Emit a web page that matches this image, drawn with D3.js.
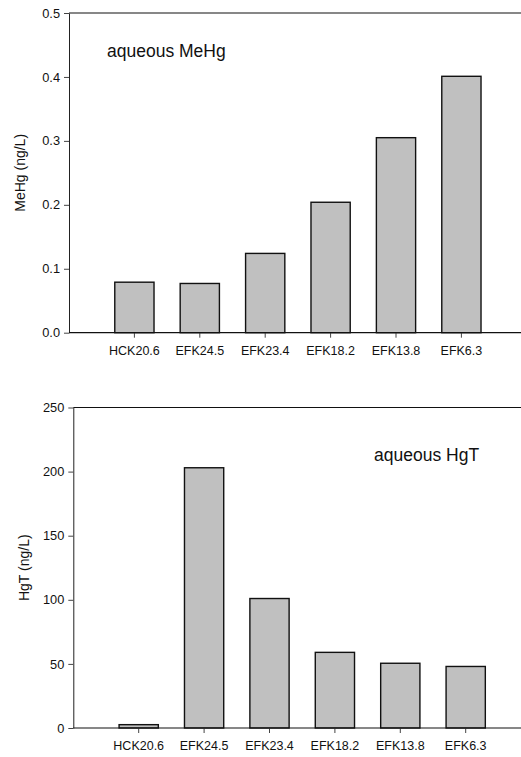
<!DOCTYPE html>
<html>
<head>
<meta charset="utf-8">
<script src="https://cdn.jsdelivr.net/npm/d3@7"></script>
<style>
  html, body { margin: 0; padding: 0; background: #fff; }
  svg { display: block; font-family: "Liberation Sans", Arial, sans-serif; }
</style>
</head>
<body>
<svg id="chart" width="521" height="757"></svg>
<script>
// Sampling sites, upstream to downstream
const sites = ["HCK20.6", "EFK24.5", "EFK23.4", "EFK18.2", "EFK13.8", "EFK6.3"];

// Aqueous methylmercury (ng/L)
const mehg = [0.079, 0.077, 0.124, 0.204, 0.305, 0.401];
const mehgTicks = [0.0, 0.1, 0.2, 0.3, 0.4, 0.5];

// Aqueous total mercury (ng/L)
const hgt = [2.6, 203, 101, 59, 50.5, 48];
const hgtTicks = [0, 50, 100, 150, 200, 250];

const svg = d3.select("#chart");
const W = 521;

function panel(opts) {
  const { x0, yTop, yBottom, values, ticks, fmt, yTitle, label, labelX, labelY } = opts;
  const step = 65.4;
  const g = svg.append("g");

  const x = d3.scaleBand()
    .domain(sites)
    .range([x0 + 0.5 * step, x0 + 6.5 * step])
    .paddingInner(0.4)
    .paddingOuter(0.2);

  const y = d3.scaleLinear()
    .domain([ticks[0], ticks[ticks.length - 1]])
    .range([yBottom, yTop]);

  // bars
  g.selectAll("rect.bar")
    .data(values)
    .join("rect")
    .attr("class", "bar")
    .attr("x", (d, i) => x(sites[i]))
    .attr("width", x.bandwidth())
    .attr("y", d => y(d))
    .attr("height", d => y(ticks[0]) - y(d))
    .attr("fill", "#c0c0c0")
    .attr("stroke", "#111")
    .attr("stroke-width", 1.4);

  // left axis
  const ya = g.append("g")
    .attr("transform", `translate(${x0},0)`)
    .call(d3.axisLeft(y).tickValues(ticks).tickFormat(fmt).tickSize(5).tickSizeOuter(0));
  ya.select(".domain").attr("stroke", "#222");
  ya.selectAll(".tick line").attr("stroke", "#444");
  ya.selectAll(".tick text")
    .attr("x", -9)
    .attr("font-size", 12.8)
    .attr("font-family", "Liberation Sans, Arial, sans-serif")
    .attr("fill", "#111");

  // bottom axis ticks and labels
  const xa = g.append("g")
    .attr("transform", `translate(0,${yBottom})`)
    .call(d3.axisBottom(x).tickSize(5).tickSizeOuter(0));
  xa.select(".domain").remove();
  xa.selectAll(".tick line").attr("stroke", "#444");
  xa.selectAll(".tick text")
    .attr("y", 13)
    .attr("font-size", 12.5)
    .attr("font-family", "Liberation Sans, Arial, sans-serif")
    .attr("fill", "#111");

  // frame lines along bottom and top
  g.append("line")
    .attr("x1", x0).attr("x2", W)
    .attr("y1", yBottom).attr("y2", yBottom)
    .attr("stroke", "#111").attr("stroke-width", 1.2);
  g.append("line")
    .attr("x1", x0).attr("x2", W)
    .attr("y1", yTop).attr("y2", yTop)
    .attr("stroke", "#111").attr("stroke-width", 1.2);

  // y title
  g.append("text")
    .attr("transform", `translate(${x0 - 49},${(yTop + yBottom) / 2}) rotate(-90)`)
    .attr("text-anchor", "middle")
    .attr("dominant-baseline", "central")
    .attr("font-size", 14)
    .attr("fill", "#111")
    .text(yTitle);

  // panel label
  g.append("text")
    .attr("x", labelX)
    .attr("y", labelY)
    .attr("font-size", 17.5)
    .attr("fill", "#111")
    .text(label);
}

panel({
  x0: 69, yTop: 13, yBottom: 332.7,
  values: mehg, ticks: mehgTicks, fmt: d3.format(".1f"),
  yTitle: "MeHg (ng/L)",
  label: "aqueous MeHg", labelX: 107, labelY: 57
});

panel({
  x0: 73.3, yTop: 407.5, yBottom: 728,
  values: hgt, ticks: hgtTicks, fmt: d3.format("d"),
  yTitle: "HgT (ng/L)",
  label: "aqueous HgT", labelX: 374, labelY: 461
});
</script>
</body>
</html>
